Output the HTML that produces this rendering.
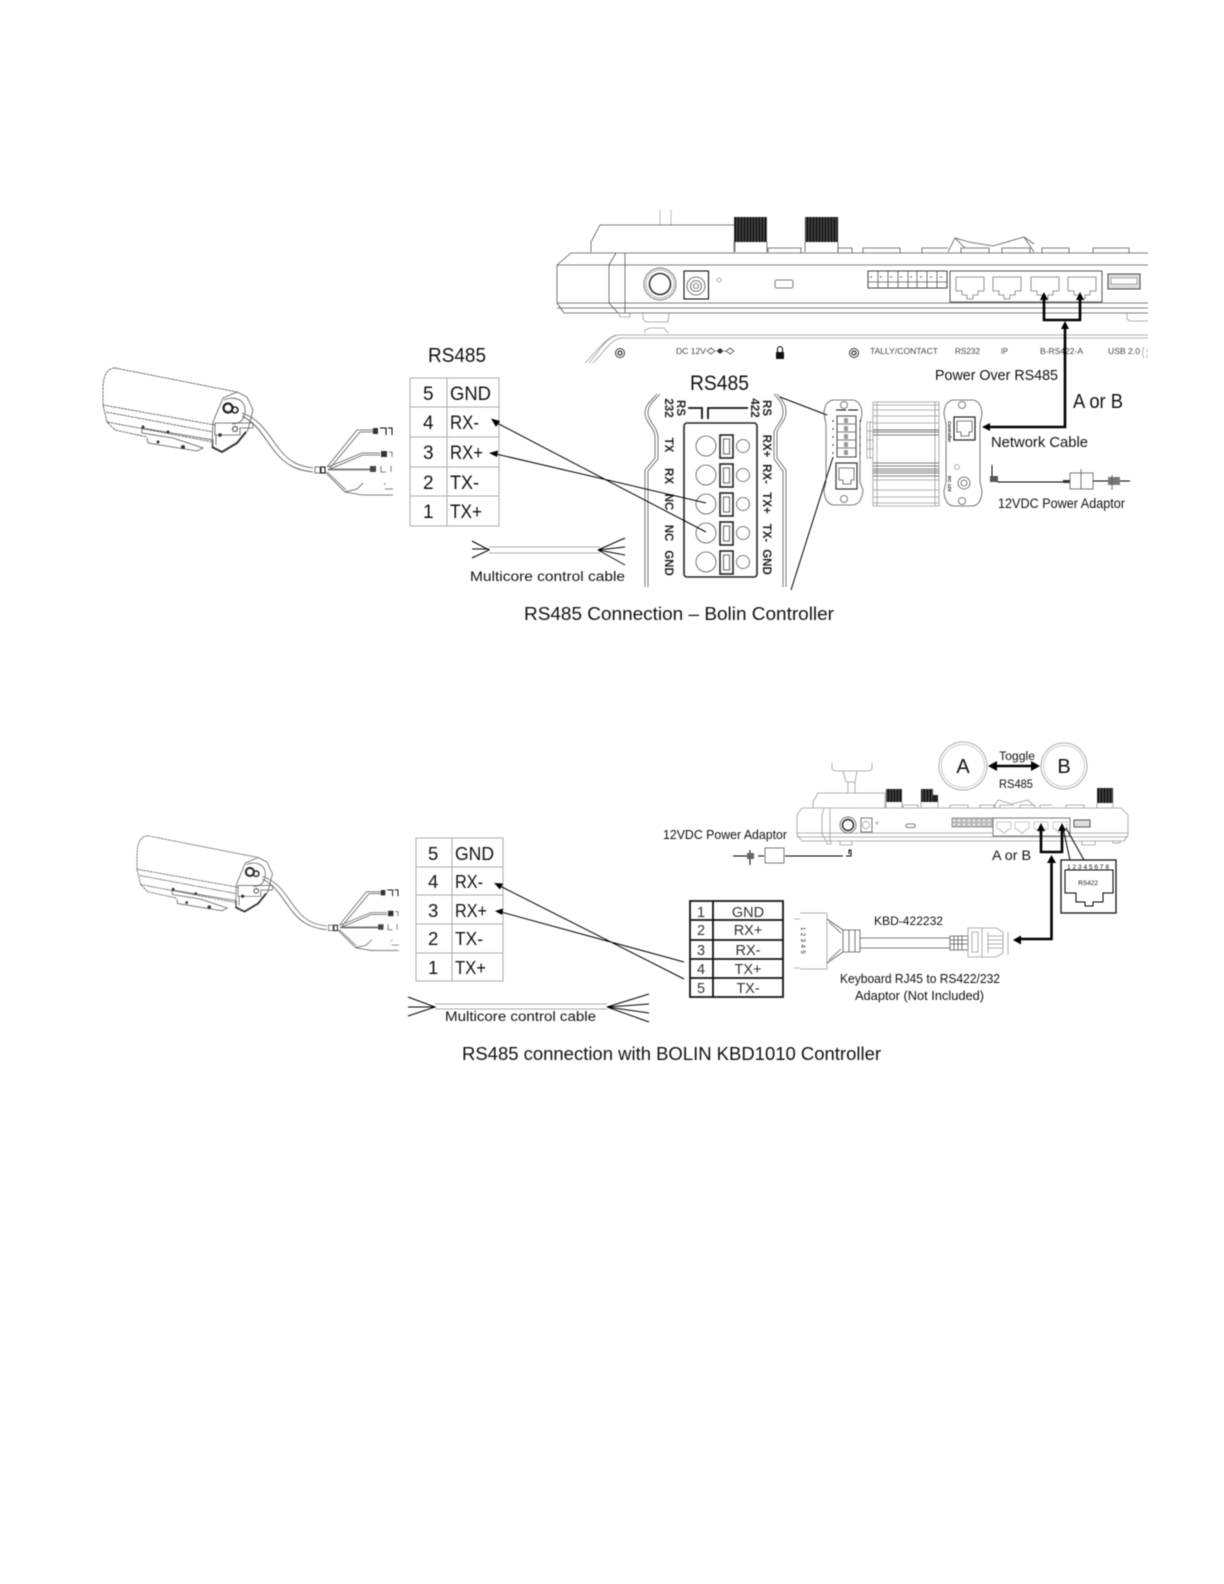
<!DOCTYPE html>
<html><head><meta charset="utf-8"><title>RS485 connections</title>
<style>
html,body{margin:0;padding:0;background:#fff;width:1224px;height:1584px;overflow:hidden}
svg{display:block;filter:blur(.45px)}
text{font-family:"Liberation Sans",sans-serif;fill:#111}
.l{fill:none;stroke:#555;stroke-width:.8}
.g{fill:none;stroke:#999;stroke-width:.8}
.k{fill:none;stroke:#000;stroke-width:1}
.t{fill:none;stroke:#000;stroke-width:2.6}
.c{fill:none;stroke:#bbb;stroke-width:1}
.a{font-size:8px;fill:#444}
.r{font-size:11.5px;font-weight:bold;text-anchor:middle;fill:#222}
.h{fill:none;stroke:#aaa;stroke-width:1}
</style></head><body>
<svg width="1224" height="1584" viewBox="0 0 1224 1584" xmlns="http://www.w3.org/2000/svg">
<defs>
<pattern id="s" width="3" height="8" patternUnits="userSpaceOnUse"><rect width="3" height="8" fill="#161616"/><rect x="1.5" width=".8" height="8" fill="#666"/></pattern>
<path id="rj" d="M0,0H28V14H22V18H17V22H11V18H6V14H0Z" fill="#fff" stroke="#777" stroke-width=".8"/>
<g id="cam">
<path class="l" stroke-dasharray="3 .6" d="M115,368L237,392M115,368C106,368 103,378 103,390L103,405L107,422L115,430L147,437M103,405L215,425M106,412L213,432M107,422L213,442"/>
<path class="l" d="M142,428L213,440L213,447M142,428L142,433L173,438M147,438L148,443L197,451L203,448L173,438"/>
<circle cx="143" cy="427" r="1.5" fill="#333"/><circle cx="168" cy="432" r="1.5" fill="#333"/><circle cx="158" cy="442" r="1.5" fill="#333"/><circle cx="183" cy="447" r="2" fill="#333"/>
<path class="l" d="M237,392L247,397L253,410L248,430L237,443L222,452L212,447L213,422L223,398Z" fill="#fff"/>
<path fill="none" stroke="#333" stroke-width="2" d="M212,447L222,452L237,443L246,432"/>
<path class="l" d="M224,400C232,396 246,398 245,412C244,422 238,424 232,424"/>
<circle cx="228" cy="408" r="4.5" fill="none" stroke="#222" stroke-width="2.2"/><circle cx="235" cy="410" r="3" fill="none" stroke="#222" stroke-width="1.6"/>
<path class="l" d="M215,423H253V428H240V435H215ZM216,435V445"/>
<circle cx="220" cy="435" r="1.8" fill="#333"/><circle cx="235" cy="429" r="2.5" fill="none" stroke="#333"/>
<path fill="none" stroke="#777" stroke-width="1" d="M242,413C262,420 268,435 280,450C290,462 298,466 313,468"/>
<path fill="none" stroke="#666" stroke-width="1" d="M242,416C258,424 264,438 276,453C286,465 296,470 313,472"/>
<rect x="315" y="467" width="5" height="6" class="l"/><rect x="321" y="467" width="4" height="6" class="k"/>
<path class="l" d="M327,467L357,430H373M330,468L360,432H373M328,467L362,453H380M330,469L363,455H380M328,469H370M328,470H370M325,472L345,492L357,489L363,483M345,492L362,495H387M327,472L346,490"/>
<rect x="373" y="428" width="5" height="6" fill="#333"/><path class="k" d="M380,428H386V435M388,428H392V435"/>
<rect x="381" y="451" width="6" height="6" fill="#333"/><path class="l" d="M389,452H392V457"/>
<rect x="370" y="466" width="6" height="6" fill="#444"/><path class="l" d="M381,466V472H386M391,466V472"/>
<path class="l" d="M384,484H386M385,489H393M387,495H393"/>
</g>
</defs>

<!-- ========== DIAGRAM 1 ========== -->
<path class="c" d="M660,210V225M671,210V225"/>
<path class="l" d="M591,252V242L600,225H735V252"/>
<rect x="734" y="217" width="33" height="25" fill="url(#s)"/>
<rect x="805" y="217" width="33" height="25" fill="url(#s)"/>
<path class="l" d="M734,242V252M767,242V252M805,242V252M838,242V252"/>
<path class="l" d="M768,253V248H801V253M838,253V248H852V253M863,253V248H900V253M922,253V248H948M961,253V248H989V253M1002,253V248H1030V253M1042,253V248H1069V253M1093,253V248H1129V253"/>
<path class="l" d="M948,252L955,238L969,242L993,246L1024,237L1034,252M955,238L965,248M1024,237L1034,244"/>
<path class="l" d="M1148,253H571L557,265V303L564,313H1148M557,265H1148M557,303H1148M557,308H1148M616,253L609,265V303L618,313M625,253V313"/>
<path class="g" d="M643,313V319L646,322H668L669,313M619,313L620,317H630V313M1127,313V319L1130,321H1148M645,333V330L650,328H664L668,333"/>
<circle cx="660" cy="284" r="16" fill="none" stroke="#777"/><circle cx="660" cy="284" r="14" class="g"/><circle cx="660" cy="284" r="10.5" fill="none" stroke="#333" stroke-width="1.6"/>
<rect x="684" y="271" width="24.5" height="28" class="k"/>
<circle cx="696" cy="286" r="9" class="l"/><circle cx="696" cy="286" r="5.5" class="l"/><circle cx="696" cy="286" r="2.5" class="l"/>
<circle cx="719" cy="280" r="2" class="g"/>
<rect x="775" y="280" width="18" height="8" rx="2" class="l"/>
<rect x="868" y="271" width="79" height="17" fill="#fff" stroke="#444"/>
<path class="l" d="M878,271V288M888,271V288M898,271V288M908,271V288M917,271V288M927,271V288M937,271V288M868,282H947"/>
<path stroke="#555" stroke-width="1" stroke-dasharray="2 8" d="M870,277H947"/>
<rect x="950" y="271" width="152" height="31" fill="#fff" stroke="#555"/>
<use href="#rj" x="956" y="277"/><use href="#rj" x="993" y="277"/><use href="#rj" x="1031" y="277"/><use href="#rj" x="1068" y="277"/>
<rect x="1108" y="274" width="32" height="15" fill="#ddd" stroke="#444"/><rect x="1111" y="278" width="26" height="6" fill="#fff" stroke="#666" stroke-width=".5"/>
<path class="g" d="M1148,335H620C608,335 600,350 589,363M1148,338H622C612,338 604,352 593,363M616,335C606,338 596,352 585,363"/>
<circle cx="620" cy="353" r="4.5" fill="none" stroke="#333"/><circle cx="620" cy="353" r="2" class="k"/>
<circle cx="854" cy="353" r="4.5" fill="none" stroke="#333"/><circle cx="854" cy="353" r="2" class="k"/>
<text class="a" x="676" y="354" textLength="30" lengthAdjust="spacingAndGlyphs">DC 12V</text>
<path class="l" d="M711,348L715,351L711,354L707,351ZM730,348L734,351L730,354L726,351ZM716,351H726"/><circle cx="720" cy="351" r="2.5" fill="#333"/>
<rect x="776" y="352" width="8" height="7" fill="#111"/><path class="k" d="M777.5,352V349A2.5,2.5 0 0 1 782.5,349V352"/>
<text class="a" x="870" y="354" textLength="68" lengthAdjust="spacingAndGlyphs">TALLY/CONTACT</text>
<text class="a" x="955" y="354" textLength="25" lengthAdjust="spacingAndGlyphs">RS232</text>
<text class="a" x="1001" y="354" textLength="7" lengthAdjust="spacingAndGlyphs">IP</text>
<text class="a" x="1040" y="354" textLength="43" lengthAdjust="spacingAndGlyphs">B-RS422-A</text>
<text class="a" x="1108" y="354" textLength="32" lengthAdjust="spacingAndGlyphs">USB 2.0</text>
<path class="g" d="M1144,347C1142,350 1142,355 1144,358M1147,349V352M1147,355V358"/>
<path class="t" d="M1044,298V320H1080V298M1065,327V427H988"/>
<path d="M1044,292L1040,300H1048ZM1080,292L1076,300H1084ZM1065,321L1061,329H1069ZM982,427L990,423V431Z" fill="#000"/>
<text x="935" y="380" font-size="14.5" textLength="123" lengthAdjust="spacingAndGlyphs">Power Over RS485</text>
<text x="1073" y="408" font-size="20" textLength="50" lengthAdjust="spacingAndGlyphs">A or B</text>
<text x="991" y="447" font-size="14.5" textLength="97" lengthAdjust="spacingAndGlyphs">Network Cable</text>
<text x="998" y="508" font-size="13.5" textLength="127" lengthAdjust="spacingAndGlyphs">12VDC Power Adaptor</text>
<text x="690" y="390" font-size="21" textLength="59" lengthAdjust="spacingAndGlyphs">RS485</text>
<path class="l" stroke-width="1" d="M657,394C650,402 645,405 645,413C645,422 655,428 655,437V458L645,470V587M660,394C653,402 648,405 648,413C648,421 658,428 658,437V459L648,471V587"/>
<path class="l" stroke-width="1" d="M777,394C784,402 786,405 786,413C786,421 777,427 777,433V458L786,470V587M774,394C781,402 783,405 783,413C783,421 774,427 774,433V459L783,471V587"/>
<path fill="none" stroke="#111" stroke-width="1.8" d="M688,408H702V419M708,419V408H748"/>
<rect x="684" y="423" width="73" height="154" rx="3" fill="#fff" stroke="#222" stroke-width="1.6"/>
<g class="l" stroke="#333">
<circle cx="706" cy="446" r="10"/><circle cx="706" cy="475" r="10"/><circle cx="706" cy="504" r="10"/><circle cx="706" cy="533" r="10"/><circle cx="706" cy="562" r="10"/>
<circle cx="743" cy="446" r="6.5"/><circle cx="743" cy="475" r="6.5"/><circle cx="743" cy="504" r="6.5"/><circle cx="743" cy="533" r="6.5"/><circle cx="743" cy="562" r="6.5"/>
</g>
<g fill="#fff" stroke="#222">
<rect x="720" y="435" width="13" height="23" stroke-width="1.6"/><rect x="723.5" y="439" width="6" height="15" stroke-width=".7"/>
<rect x="720" y="464" width="13" height="23" stroke-width="1.6"/><rect x="723.5" y="468" width="6" height="15" stroke-width=".7"/>
<rect x="720" y="493" width="13" height="23" stroke-width="1.6"/><rect x="723.5" y="497" width="6" height="15" stroke-width=".7"/>
<rect x="720" y="522" width="13" height="23" stroke-width="1.6"/><rect x="723.5" y="526" width="6" height="15" stroke-width=".7"/>
<rect x="720" y="551" width="13" height="23" stroke-width="1.6"/><rect x="723.5" y="555" width="6" height="15" stroke-width=".7"/>
</g>
<text class="r" transform="translate(677,408) rotate(90)">RS</text>
<text class="r" transform="translate(665,408) rotate(90)">232</text>
<text class="r" transform="translate(763,408) rotate(90)">RS</text>
<text class="r" transform="translate(751,408) rotate(90)">422</text>
<text class="r" transform="translate(665,445) rotate(90)">TX</text>
<text class="r" transform="translate(665,476) rotate(90)">RX</text>
<text class="r" transform="translate(665,502) rotate(90)">NC</text>
<text class="r" transform="translate(665,533) rotate(90)">NC</text>
<text class="r" transform="translate(665,563) rotate(90)">GND</text>
<text class="r" transform="translate(763,446) rotate(90)">RX+</text>
<text class="r" transform="translate(763,474) rotate(90)">RX-</text>
<text class="r" transform="translate(763,503) rotate(90)">TX+</text>
<text class="r" transform="translate(763,533) rotate(90)">TX-</text>
<text class="r" transform="translate(763,562) rotate(90)">GND</text>
<path class="k" stroke-width=".8" d="M780,397L827,415M791,590L833,457"/>
<path class="l" d="M834,400H852C858,400 862,406 862,414L860,424V482L863,490C862,500 858,505 852,505H834C828,505 824,498 824,490L826,482V424L824,414C824,406 828,400 834,400Z"/>
<circle cx="844" cy="405" r="3.5" class="l"/><circle cx="844" cy="499" r="3.5" class="l"/>
<rect x="837" y="416" width="19" height="41" fill="#fff" stroke="#444"/>
<path class="l" d="M837,424H856M837,432H856M837,440H856M837,448H856"/>
<rect x="844" y="418" width="4" height="5" fill="#999"/><rect x="844" y="426" width="4" height="5" fill="#999"/><rect x="844" y="434" width="4" height="5" fill="#999"/><rect x="844" y="442" width="4" height="5" fill="#999"/><rect x="844" y="450" width="4" height="5" fill="#999"/>
<path stroke="#333" stroke-width="1" stroke-dasharray="2 6" d="M833,420V458M860,420V458"/>
<path class="k" d="M836,410H846M848,410H858" stroke-width=".8"/>
<rect x="836" y="463" width="21" height="26" fill="#fff" stroke="#333" stroke-width="1.2"/>
<path class="l" d="M839,468H854V480H851V484H843V480H839Z"/>
<path class="g" d="M873,402V506M877,402V506M935,402V506M939,402V506M873,402H939M873,405H939M873,410H939M873,416H939M873,423H939M873,430H939M873,506H939M873,503H939M873,497H939M873,490H939M873,480H939M867,422H873M867,458H873M867,422V458M870,422V458M867,431H873M867,440H873M867,449H873"/>
<path d="M873,430H939M873,432H939M873,435H939M873,463H939M873,466H939M873,469H939M873,471H939M873,473H939M873,476H939" stroke="#555" stroke-width=".8"/>
<path class="l" d="M954,400H972C978,400 982,406 982,414L980,424V482L982,490C982,500 978,506 972,506H954C948,506 944,500 944,490L946,482V424L944,414C944,406 948,400 954,400Z"/>
<circle cx="962" cy="405" r="3.5" class="l"/><circle cx="962" cy="501" r="3.5" class="l"/>
<rect x="954" y="417" width="21" height="23" fill="#fff" stroke="#222" stroke-width="1.2"/>
<path class="l" d="M957,421H972V432H969V436H961V432H957Z"/>
<circle cx="957" cy="467" r="2.5" class="g"/><circle cx="964" cy="483" r="6" class="l"/><circle cx="964" cy="483" r="3" class="l"/>
<text transform="translate(948,421) rotate(90)" font-size="4.5" font-weight="bold">Controller</text>
<text transform="translate(948,476) rotate(90)" font-size="4.5" font-weight="bold">DC 12V</text>
<path class="k" d="M992,465V476M997,482H1063M1093,481H1110M1120,481H1130" stroke-width="1"/>
<rect x="990" y="476" width="8" height="6" fill="#555"/><rect x="1063" y="480" width="7" height="3" fill="#333"/>
<rect x="1070" y="473" width="23" height="16" class="l"/><path class="l" d="M1081,469V489"/>
<rect x="1108" y="477" width="12" height="8" fill="#777"/><path class="l" d="M1112,475V490"/>
<use href="#cam"/>
<path class="h" d="M410,378H499V526H410ZM447,378V526M410,407H499M410,437H499M410,467H499M410,496H499"/>
<text x="428" y="362" font-size="20" textLength="58" lengthAdjust="spacingAndGlyphs">RS485</text>
<g font-size="19">
<text x="423" y="400">5</text><text x="423" y="429">4</text><text x="423" y="459">3</text><text x="423" y="489">2</text><text x="423" y="518">1</text>
<text x="450" y="400" textLength="41" lengthAdjust="spacingAndGlyphs">GND</text>
<text x="450" y="429" textLength="29" lengthAdjust="spacingAndGlyphs">RX-</text>
<text x="450" y="459" textLength="33" lengthAdjust="spacingAndGlyphs">RX+</text>
<text x="450" y="489" textLength="29" lengthAdjust="spacingAndGlyphs">TX-</text>
<text x="450" y="518" textLength="32" lengthAdjust="spacingAndGlyphs">TX+</text>
</g>
<path class="k" d="M706,503L496,454M706,532L497,423"/>
<path d="M489,453L498,450.5L497,457ZM491,418.5L500,421L496,427Z" fill="#000"/>
<path class="k" stroke-width="1.4" d="M472,541L489,550L472,558M472,549H489M598,550L625,538M598,550L625,547M598,550L625,555M598,550L625,565"/>
<path fill="none" stroke="#aaa" d="M489,547H600M489,553H600"/>
<text x="470" y="581" font-size="14" textLength="155" lengthAdjust="spacingAndGlyphs">Multicore control cable</text>
<text x="524" y="620" font-size="18.5" textLength="310" lengthAdjust="spacingAndGlyphs">RS485 Connection – Bolin Controller</text>

<!-- ========== DIAGRAM 2 ========== -->
<circle cx="963" cy="766" r="24" fill="none" stroke="#aaa"/><circle cx="963" cy="766" r="21.5" fill="none" stroke="#ccc"/>
<circle cx="1064" cy="766" r="23" fill="none" stroke="#aaa"/><circle cx="1064" cy="766" r="20.5" fill="none" stroke="#ccc"/>
<text x="963" y="773" font-size="20" text-anchor="middle">A</text>
<text x="1064" y="773" font-size="20" text-anchor="middle">B</text>
<path stroke="#000" stroke-width="2.6" d="M992,766H1036"/>
<path d="M988,766L997,761V771ZM1040,766L1031,761V771Z" fill="#000"/>
<text x="1017" y="760" font-size="11.5" text-anchor="middle" textLength="36" lengthAdjust="spacingAndGlyphs">Toggle</text>
<text x="1016" y="788" font-size="11.5" text-anchor="middle" textLength="34" lengthAdjust="spacingAndGlyphs">RS485</text>
<path class="g" d="M832,763V768C832,770 834,771 836,771H868C870,771 872,770 872,768V763M843,771L846,782H855L857,771M848,782V793M855,782V793"/>
<path class="g" d="M813,808V802L818,793H885V808"/>
<rect x="886" y="789" width="16" height="13" fill="url(#s)"/>
<rect x="921" y="789" width="12" height="13" fill="url(#s)"/><rect x="933" y="795" width="5" height="7" fill="#222"/>
<rect x="1097" y="788" width="16" height="15" fill="url(#s)"/>
<path class="g" d="M886,802V808M902,802V808M921,802V808M938,802V808M1097,803V808M1113,803V808M903,808V805H918V808M950,808V805H968V808M980,808V805H995V808M1000,808V805H1014M1020,808V805H1035M1040,808V805H1052M1066,808V805H1084V808"/>
<path class="g" d="M993,808L998,800L1012,804L1028,800L1036,808"/>
<path class="g" stroke="#aaa" d="M802,808H1121L1128,815V835L1124,841H802L797,835V815ZM797,833H1128M797,837H1128M824,808L822,815V834L826,841M830,808V841"/>
<path class="g" d="M827,841V844H831V841M840,841V845H852V841M1082,841V845H1095V841M1113,841V843H1120V841"/>
<circle cx="848" cy="825" r="8" fill="none" stroke="#777"/><circle cx="848" cy="825" r="5.5" fill="none" stroke="#222" stroke-width="1.4"/>
<rect x="861" y="818" width="11" height="14" class="l"/><circle cx="866" cy="825" r="3.5" class="g"/>
<circle cx="877" cy="823" r="1" class="g"/>
<rect x="906" y="824" width="9" height="3.5" rx="1.5" class="l"/>
<rect x="952" y="818" width="41" height="9" fill="#bbb" stroke="#666" stroke-width=".6"/>
<path stroke="#fff" stroke-width="1.5" stroke-dasharray="2 3" d="M953,820.5H993M953,824.5H993"/>
<rect x="993" y="818" width="77" height="18" fill="#fff" stroke="#777"/>
<use href="#rj" transform="translate(997,822) scale(.5)"/><use href="#rj" transform="translate(1015,822) scale(.5)"/><use href="#rj" transform="translate(1034,822) scale(.5)"/><use href="#rj" transform="translate(1053,822) scale(.5)"/>
<rect x="1074" y="820" width="16" height="7" fill="#ddd" stroke="#555"/>
<path class="t" d="M1041,829V852H1062V829M1051.5,862V939H1019"/>
<path d="M1041,823L1037,831H1045ZM1062,823L1058,831H1066ZM1051.5,855L1047,863H1056ZM1013,940L1021,935.5V944.5Z" fill="#000"/>
<path class="k" stroke-width=".9" d="M1063,828L1070,860M1066,828L1084,860"/>
<text x="992" y="860" font-size="14" textLength="39" lengthAdjust="spacingAndGlyphs">A or B</text>
<text x="663" y="839" font-size="12.5" textLength="124" lengthAdjust="spacingAndGlyphs">12VDC Power Adaptor</text>
<path class="k" stroke-width="1" d="M733,856H750M785,856H843M750,850V865M758,856H764"/>
<rect x="747" y="853" width="7" height="6" fill="#666"/>
<rect x="765" y="848" width="19" height="15" class="l"/><path class="k" stroke="#333" d="M846,856H851V850H849V854"/>
<rect x="1061" y="860" width="55" height="53" fill="#fff" stroke="#111" stroke-width="1.3"/>
<text x="1067" y="869" font-size="6.5" textLength="42" lengthAdjust="spacing" fill="#333">12345678</text>
<path class="k" stroke="#222" stroke-width=".9" d="M1065,870H1113V893H1103V902H1093V906H1085V902H1076V893H1065Z"/>
<text x="1088" y="885" font-size="6.5" text-anchor="middle" fill="#444">RS422</text>
<path fill="none" stroke="#111" stroke-width="1.8" d="M690,901H783V997H690ZM713,901V997M690,920H783M690,940H783M690,959H783M690,978H783"/>
<g font-size="14.5" text-anchor="middle">
<text x="701" y="917" style="fill:#333">1</text><text x="701" y="935" style="fill:#333">2</text><text x="701" y="955" style="fill:#333">3</text><text x="701" y="974" style="fill:#333">4</text><text x="701" y="993" style="fill:#333">5</text>
<text x="748" y="917" style="fill:#333">GND</text><text x="748" y="935" style="fill:#333">RX+</text><text x="748" y="955" style="fill:#333">RX-</text><text x="748" y="974" style="fill:#333">TX+</text><text x="748" y="993" style="fill:#333">TX-</text>
</g>
<text x="874" y="925" font-size="12" textLength="69" lengthAdjust="spacingAndGlyphs">KBD-422232</text>
<text x="840" y="983" font-size="12.5" textLength="160" lengthAdjust="spacingAndGlyphs">Keyboard RJ45 to RS422/232</text>
<text x="855" y="1000" font-size="12.5" textLength="129" lengthAdjust="spacingAndGlyphs">Adaptor (Not Included)</text>
<path class="g" d="M800,913H827V969H800M794,919H800M794,968H800"/>
<text transform="translate(801,927) rotate(90)" font-size="6" letter-spacing="2.5" fill="#333">12345</text>
<path class="l" d="M827,919L843,930V952L827,963M843,930H860V952H843M849,930V952M855,930V952M860,938H950M860,948H950M829,922L841,933M829,960L841,949"/>
<path class="l" d="M950,936H968V950H950ZM954,936V950M958,936V950M962,936V950M950,940H968M950,944H968"/>
<path class="g" d="M968,928H996L1003,932V953L996,957H968ZM972,932H978V952H972ZM982,928V957M988,932V953M988,936H1003M988,940H1003M988,944H1003M988,948H1003"/>
<path class="g" d="M1008,932V955" stroke-width=".6"/>
<use href="#cam" transform="translate(44,503.5) scale(.903)"/>
<path class="h" d="M416,838H503V981H416ZM452,838V981M416,867H503M416,895H503M416,924H503M416,953H503"/>
<g font-size="18.5">
<text x="428" y="860">5</text><text x="428" y="888">4</text><text x="428" y="917">3</text><text x="428" y="945">2</text><text x="428" y="974">1</text>
<text x="455" y="860" textLength="39" lengthAdjust="spacingAndGlyphs">GND</text>
<text x="455" y="888" textLength="28" lengthAdjust="spacingAndGlyphs">RX-</text>
<text x="455" y="917" textLength="32" lengthAdjust="spacingAndGlyphs">RX+</text>
<text x="455" y="945" textLength="28" lengthAdjust="spacingAndGlyphs">TX-</text>
<text x="455" y="974" textLength="31" lengthAdjust="spacingAndGlyphs">TX+</text>
</g>
<path class="k" d="M684,979L500,886M684,962L501,912"/>
<path d="M494,883L503,883.5L500,889.5ZM495,911L503,908.5L502,915Z" fill="#000"/>
<path class="k" stroke-width="1.4" d="M408,997L435,1007L408,1016M408,1007H435M607,1007L649,994M607,1007L649,1004M607,1007L649,1013M607,1007L649,1022"/>
<path fill="none" stroke="#aaa" d="M435,1004H607M435,1009H607"/>
<text x="445" y="1021" font-size="13.5" textLength="151" lengthAdjust="spacingAndGlyphs">Multicore control cable</text>
<text x="462" y="1060" font-size="18.5" textLength="419" lengthAdjust="spacingAndGlyphs">RS485 connection with BOLIN KBD1010 Controller</text>
</svg>
</body></html>
